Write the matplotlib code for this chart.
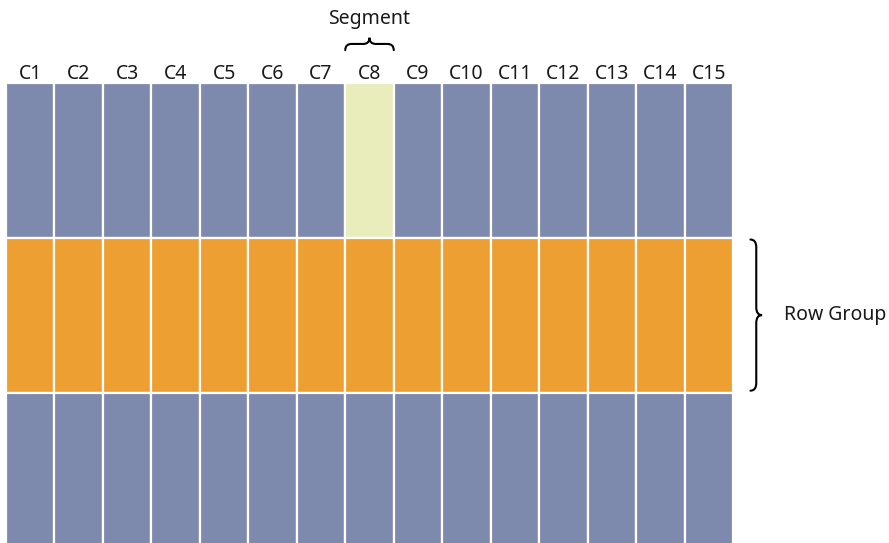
import numpy as np
import matplotlib.pyplot as plt
from matplotlib.path import Path
from matplotlib.patches import PathPatch

# ---------------- data ----------------
columns = ['C1', 'C2', 'C3', 'C4', 'C5', 'C6', 'C7', 'C8',
           'C9', 'C10', 'C11', 'C12', 'C13', 'C14', 'C15']
row_kind = ['normal', 'group', 'normal']      # middle row is the row group
segment_col = 'C8'                            # highlighted segment in the top row
segment_row = 0

kind_colors = {'normal': '#7E89AE', 'group': '#EDA031', 'segment': '#E9EDBB'}

plt.rcParams['font.family'] = ['Noto Sans', 'DejaVu Sans']

fig = plt.figure(figsize=(8.89, 5.43), dpi=100)
W, H = 889, 543
# grid axes: 15 columns x 3 rows, bottom row runs off the figure edge
left_px, right_px, top_px, row_px = 6, 733, 83, 155
ax = fig.add_axes([left_px / W, (H - top_px - 3 * row_px) / H,
                   (right_px - left_px) / W, 3 * row_px / H])
ax.set_xlim(0, len(columns))
ax.set_ylim(len(row_kind), 0)
ax.axis('off')

x = np.arange(len(columns))
for r, kind in enumerate(row_kind):
    cols = [kind_colors[kind]] * len(columns)
    if r == segment_row:
        cols[columns.index(segment_col)] = kind_colors['segment']
    ax.bar(x, 1, bottom=r, width=1, align='edge', color=cols,
           edgecolor='white', linewidth=1.6)

# column labels
for i, name in enumerate(columns):
    ax.text(i + 0.5, -0.027, name, ha='center', va='baseline', fontsize=14,
            color='#1a1a1a', clip_on=False)


def brace(ax, a0, a1, base, tip, r, horizontal=True, lw=1.5):
    """curly brace between a0 and a1, base = end side, tip = point side"""
    mid = (base + tip) / 2
    am = (a0 + a1) / 2
    pts = [(a0, base), (a0, mid), (a0 + r, mid),
           (am - r, mid), (am, mid), (am, tip),
           (am, mid), (am + r, mid),
           (a1 - r, mid), (a1, mid), (a1, base)]
    codes = [Path.MOVETO, Path.CURVE3, Path.CURVE3,
             Path.LINETO, Path.CURVE3, Path.CURVE3,
             Path.CURVE3, Path.CURVE3,
             Path.LINETO, Path.CURVE3, Path.CURVE3]
    if not horizontal:
        pts = [(p[1], p[0]) for p in pts]
    ax.add_patch(PathPatch(Path(pts, codes), fill=False, lw=lw,
                           color='black', clip_on=False, capstyle='round'))


# segment brace + label over C8
ci = columns.index(segment_col)
brace(ax, ci, ci + 1, -0.212, -0.292, 0.13, horizontal=True)
ax.text(ci + 0.5, -0.38, 'Segment', ha='center', va='baseline', fontsize=14,
        color='#1a1a1a', clip_on=False)

# row group brace + label
gi = row_kind.index('group')
brace(ax, gi + 0.01, gi + 0.985, 15.36, 15.6, 0.05, horizontal=False)
ax.text(16.05, gi + 0.5, 'Row Group', ha='left', va='center', fontsize=14,
        color='#1a1a1a', clip_on=False)

fig.savefig('out.png', dpi=100)
